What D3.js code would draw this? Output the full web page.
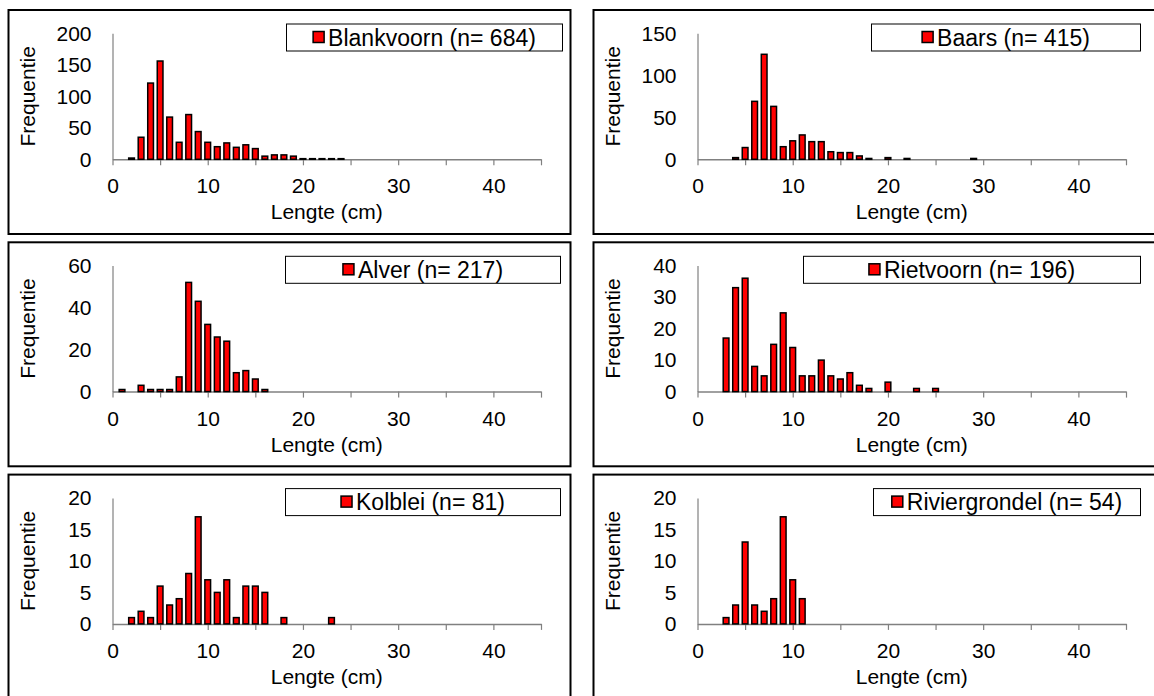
<!DOCTYPE html>
<html>
<head>
<meta charset="utf-8">
<script src="https://cdn.jsdelivr.net/npm/d3@7"></script>
<style>
  html, body { margin: 0; padding: 0; background: #fff; }
  svg { display: block; font-family: Arial, "Liberation Sans", sans-serif; }
</style>
</head>
<body>
<div id="chart"></div>
<script>
// lengteklasse (cm), aantal
const blankvoorn = [[2,2],[3,35],[4,121],[5,156],[6,67],[7,27],[8,71],[9,44],[10,27],[11,20],[12,26],[13,19],[14,23],[15,17],[16,5],[17,7],[18,7],[19,5],[20,1],[21,1],[22,1],[23,1],[24,1]];
const baars = [[4,2],[5,14],[6,69],[7,125],[8,63],[9,15],[10,22],[11,29],[12,21],[13,21],[14,9],[15,8],[16,8],[17,4],[18,1],[20,2],[22,1],[29,1]];
const alver = [[1,1],[3,3],[4,1],[5,1],[6,1],[7,7],[8,52],[9,43],[10,32],[11,26],[12,24],[13,9],[14,10],[15,6],[16,1]];
const rietvoorn = [[3,17],[4,33],[5,36],[6,8],[7,5],[8,15],[9,25],[10,14],[11,5],[12,5],[13,10],[14,5],[15,4],[16,6],[17,2],[18,1],[20,3],[23,1],[25,1]];
const kolblei = [[2,1],[3,2],[4,1],[5,6],[6,3],[7,4],[8,8],[9,17],[10,7],[11,5],[12,7],[13,1],[14,6],[15,6],[16,5],[18,1],[23,1]];
const riviergrondel = [[3,1],[4,3],[5,13],[6,3],[7,2],[8,4],[9,17],[10,7],[11,4]];

const soorten = ["Blankvoorn", "Baars", "Alver", "Rietvoorn", "Kolblei", "Riviergrondel"];
const aantallen = [684, 415, 217, 196, 81, 54];
const reeksen = [blankvoorn, baars, alver, rietvoorn, kolblei, riviergrondel];
const yMax = [200, 150, 60, 40, 20, 20];
const yStap = [50, 50, 20, 10, 5, 5];
const xMax = 45;
const xTickStap = 5;
const xLabelStap = 10;

// legend box x-ranges, relative to the panel box
const legendX = [[278, 554], [278, 547], [277, 552], [210, 547], [277, 552], [280, 547]];

const boxW = 562;
const boxH = 224;
const colX = [8.5, 593.5];
const rowY = [10, 242.3, 474.6];
const fontSize = 21;
const legendFont = 23;

const svg = d3.select("#chart").append("svg").attr("width", 1154).attr("height", 696);

soorten.forEach((naam, i) => {
  const bx = colX[i % 2];
  const by = rowY[Math.floor(i / 2)];
  drawPanel(svg.append("g").attr("transform", "translate(" + bx + "," + by + ")"), i);
});

function drawPanel(g, i) {
  const data = reeksen[i];
  const left = 104;
  const right = left + 428.5;
  const bottom = 149.3;
  const top = 23.3;

  g.append("rect")
    .attr("width", boxW)
    .attr("height", boxH)
    .attr("fill", "#fff")
    .attr("stroke", "#000")
    .attr("stroke-width", 2);

  const x = d3.scaleLinear().domain([0, xMax]).range([left, right]);
  const y = d3.scaleLinear().domain([0, yMax[i]]).range([bottom, top]);
  const unit = x(1) - x(0);
  const bw = unit * 0.6;

  const xAxis = d3.axisBottom(x)
    .tickValues(d3.range(0, xMax + 1, xTickStap))
    .tickFormat((d) => (d % xLabelStap === 0 && d < xMax ? d : ""))
    .tickSize(6)
    .tickSizeOuter(0)
    .tickPadding(13);

  const ga = g.append("g").attr("transform", "translate(0," + bottom + ")").call(xAxis);
  ga.select(".domain").attr("stroke", "#808080").attr("stroke-width", 1.5);
  ga.selectAll(".tick line").attr("stroke", "#808080").attr("stroke-width", 1.2);
  ga.selectAll("text").attr("font-size", fontSize).attr("fill", "#000");

  const yAxis = d3.axisLeft(y)
    .tickValues(d3.range(0, yMax[i] + 1, yStap[i]))
    .tickSize(0)
    .tickSizeOuter(0)
    .tickPadding(21);

  const gy = g.append("g").attr("transform", "translate(" + left + ",0)").call(yAxis);
  gy.select(".domain").attr("stroke", "#808080").attr("stroke-width", 1.2);
  gy.selectAll("text").attr("font-size", fontSize).attr("fill", "#000");

  g.selectAll("rect.bar")
    .data(data)
    .enter()
    .append("rect")
    .attr("class", "bar")
    .attr("x", (d) => x(d[0]) - bw / 2)
    .attr("y", (d) => y(d[1]))
    .attr("width", bw)
    .attr("height", (d) => y(0) - y(d[1]))
    .attr("fill", "#ff0000")
    .attr("stroke", "#000")
    .attr("stroke-width", 1.5);

  g.append("text")
    .attr("transform", "translate(19," + (top + bottom) / 2 + ") rotate(-90)")
    .attr("text-anchor", "middle")
    .attr("dy", "0.35em")
    .attr("font-size", fontSize)
    .text("Frequentie");

  g.append("text")
    .attr("x", (left + right) / 2)
    .attr("y", bottom + 60)
    .attr("text-anchor", "middle")
    .attr("font-size", fontSize)
    .text("Lengte (cm)");

  // legend
  const lx0 = legendX[i][0];
  const lx1 = legendX[i][1];
  const legend = g.append("g");
  legend.append("rect")
    .attr("x", lx0)
    .attr("y", 14)
    .attr("width", lx1 - lx0)
    .attr("height", 27)
    .attr("fill", "#fff")
    .attr("stroke", "#000")
    .attr("stroke-width", 1);

  const label = legend.append("text")
    .attr("y", 35.5)
    .attr("font-size", legendFont)
    .text(soorten[i] + " (n= " + aantallen[i] + ")");
  const tw = label.node().getComputedTextLength();
  const total = 12 + 3 + tw;
  const sx = (lx0 + lx1) / 2 - total / 2;
  label.attr("x", sx + 15);
  legend.append("rect")
    .attr("x", sx)
    .attr("y", 21.5)
    .attr("width", 11)
    .attr("height", 11)
    .attr("fill", "#ff0000")
    .attr("stroke", "#000")
    .attr("stroke-width", 1.5);
}
</script>
</body>
</html>
